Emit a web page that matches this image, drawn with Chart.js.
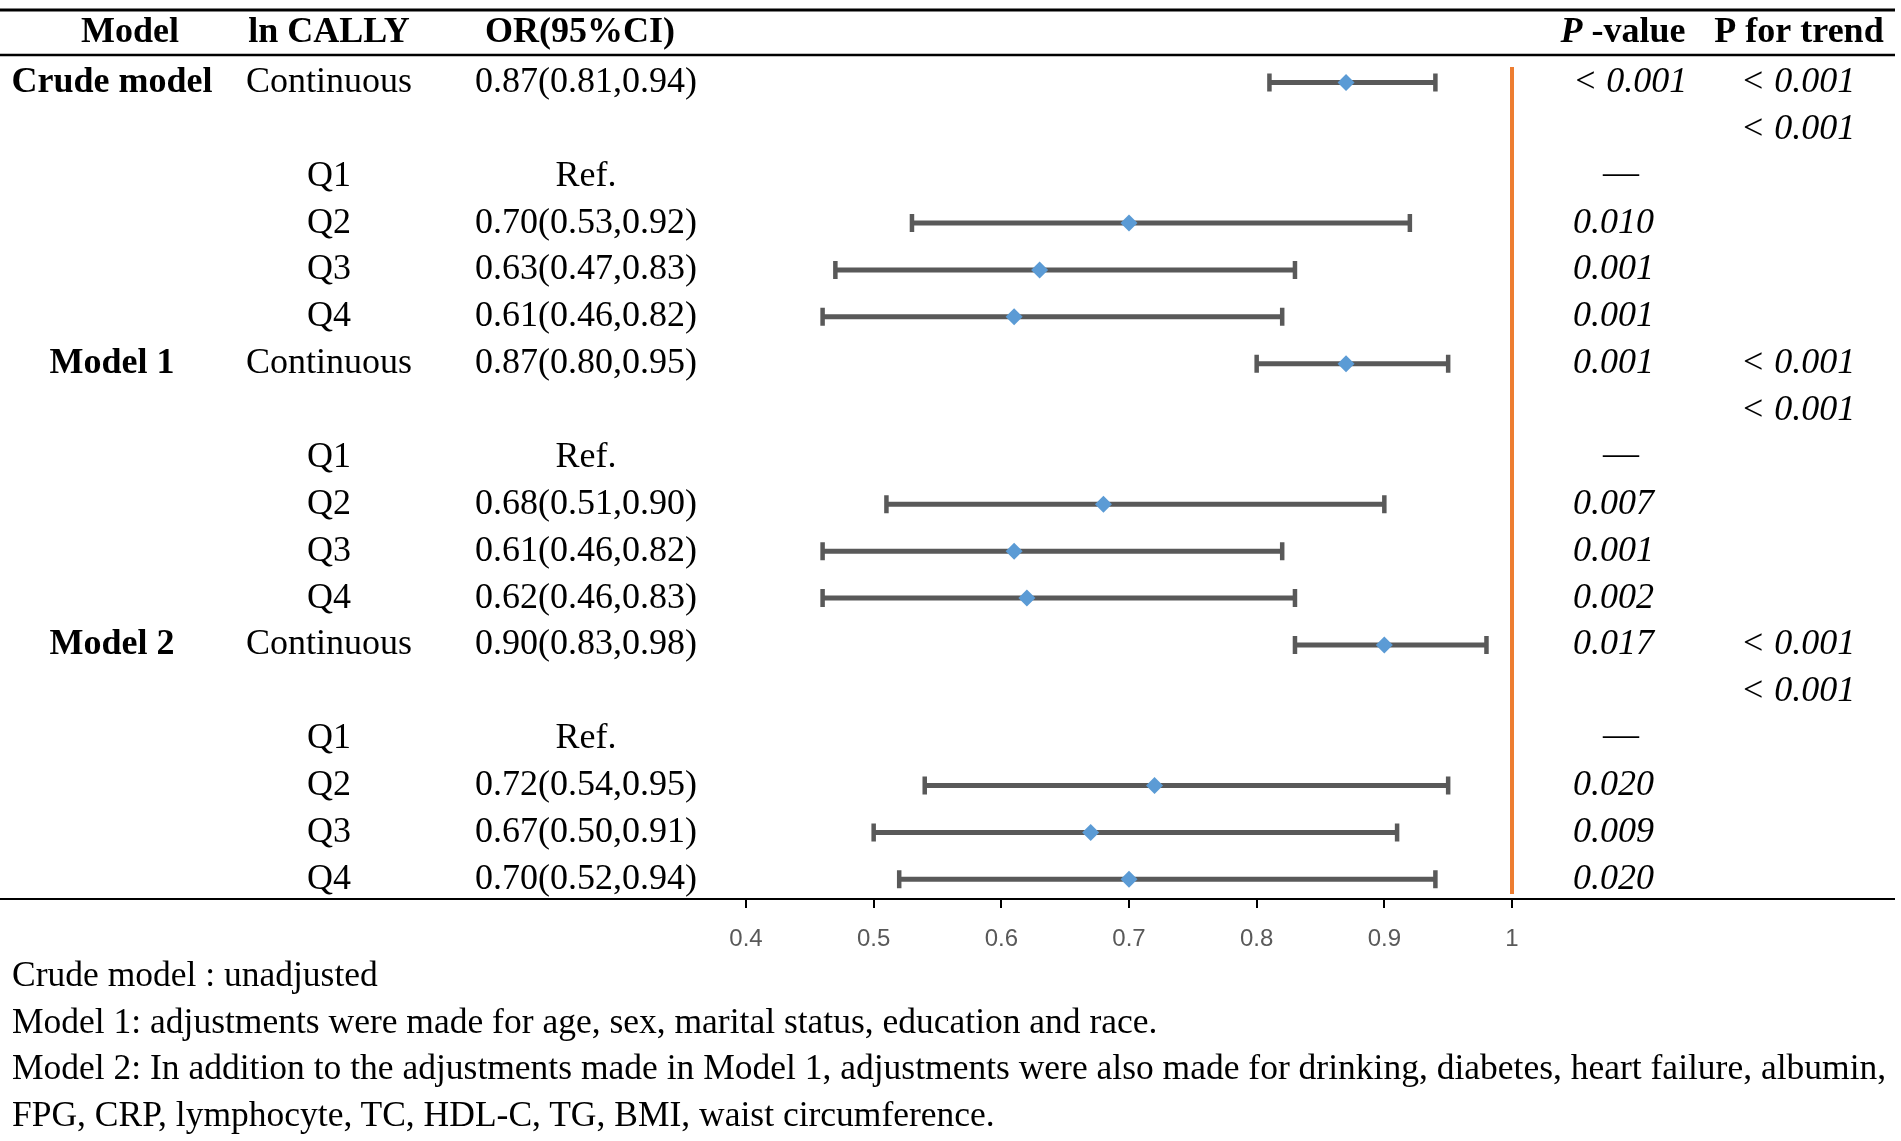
<!DOCTYPE html>
<html><head><meta charset="utf-8">
<script src="https://cdn.jsdelivr.net/npm/chart.js@4.4.1/dist/chart.umd.min.js"></script>
<style>
html,body{margin:0;padding:0;background:#fff;}
#wrap{position:relative;width:1901px;height:1141px;overflow:hidden;background:#fff;}
#c{position:absolute;left:0;top:0;}
.note{position:absolute;left:12px;font-family:'Liberation Serif','Times New Roman',serif;font-size:35.5px;line-height:46px;white-space:nowrap;color:#000;}
</style></head><body>
<div id="wrap">
<canvas id="c" width="1901" height="1141"></canvas>
<div class="note" style="top:951px">Crude model : unadjusted</div>
<div class="note" style="top:998px">Model 1: adjustments were made for age, sex, marital status, education and race.</div>
<div class="note" style="top:1044px">Model 2: In addition to the adjustments made in Model 1, adjustments were also made for drinking, diabetes, heart failure, albumin,</div>
<div class="note" style="top:1091px">FPG, CRP, lymphocyte, TC, HDL-C, TG, BMI, waist circumference.</div>
</div>
<script>
// ---- data ----
const headers = ['Model', 'ln CALLY', 'OR(95%CI)', 'P -value', 'P for trend'];
const modelNames = ['Crude model','','','','','', 'Model 1','','','','','', 'Model 2','','','','',''];
const variables = ['Continuous','','Q1','Q2','Q3','Q4', 'Continuous','','Q1','Q2','Q3','Q4', 'Continuous','','Q1','Q2','Q3','Q4'];
const orValues = [0.87,null,null,0.70,0.63,0.61, 0.87,null,null,0.68,0.61,0.62, 0.90,null,null,0.72,0.67,0.70];
const ciLower  = [0.81,null,null,0.53,0.47,0.46, 0.80,null,null,0.51,0.46,0.46, 0.83,null,null,0.54,0.50,0.52];
const ciUpper  = [0.94,null,null,0.92,0.83,0.82, 0.95,null,null,0.90,0.82,0.83, 0.98,null,null,0.95,0.91,0.94];
const pValues  = ['< 0.001','','—','0.010','0.001','0.001', '0.001','','—','0.007','0.001','0.002', '0.017','','—','0.020','0.009','0.020'];
const pTrend   = ['< 0.001','< 0.001','','','','', '< 0.001','< 0.001','','','','', '< 0.001','< 0.001','','','',''];
const xTicks   = [0.4, 0.5, 0.6, 0.7, 0.8, 0.9, 1.0];
const refValue = 1;

const SERIF = '"Liberation Serif","Times New Roman",serif';
const FS = 36;

function orText(i){
  if (variables[i] === 'Q1') return 'Ref.';
  if (orValues[i] == null) return '';
  return orValues[i].toFixed(2) + '(' + ciLower[i].toFixed(2) + ',' + ciUpper[i].toFixed(2) + ')';
}

const points = [];
orValues.forEach((v, i) => { if (v != null) points.push({x: v, y: i}); });

const forestPlugin = {
  id: 'forest',
  beforeDatasetsDraw(chart){
    const ctx = chart.ctx, xs = chart.scales.x, ys = chart.scales.y;
    ctx.save();
    // reference line
    const rx = xs.getPixelForValue(refValue);
    ctx.strokeStyle = '#ED7D31';
    ctx.lineWidth = 4;
    ctx.beginPath(); ctx.moveTo(rx, 67); ctx.lineTo(rx, 894); ctx.stroke();
    // error bars
    ctx.strokeStyle = '#595959';
    for (let i = 0; i < orValues.length; i++){
      if (orValues[i] == null) continue;
      const y = ys.getPixelForValue(i);
      const x1 = xs.getPixelForValue(ciLower[i]);
      const x2 = xs.getPixelForValue(ciUpper[i]);
      ctx.lineWidth = 5;
      ctx.beginPath(); ctx.moveTo(x1, y); ctx.lineTo(x2, y); ctx.stroke();
      ctx.lineWidth = 4.5;
      ctx.beginPath();
      ctx.moveTo(x1, y - 9); ctx.lineTo(x1, y + 9);
      ctx.moveTo(x2, y - 9); ctx.lineTo(x2, y + 9);
      ctx.stroke();
    }
    ctx.restore();
  },
  afterDraw(chart){
    const ctx = chart.ctx, ys = chart.scales.y;
    ctx.save();
    ctx.strokeStyle = '#000';
    const hline = (y, w) => { ctx.lineWidth = w; ctx.beginPath(); ctx.moveTo(0, y); ctx.lineTo(1895, y); ctx.stroke(); };
    hline(10, 3); hline(55, 2.5); hline(899, 2);

    ctx.fillStyle = '#000';
    ctx.textBaseline = 'middle';
    ctx.textAlign = 'center';
    ctx.font = 'bold ' + FS + 'px ' + SERIF;
    ctx.fillText(headers[0], 130, 33);
    ctx.fillText(headers[1], 329, 33);
    ctx.fillText(headers[2], 580, 33);
    ctx.fillText(headers[4], 1799, 33);
    // "P -value" with italic P
    const pPart = headers[3].slice(0, 1), rest = headers[3].slice(1);
    ctx.font = 'italic bold ' + FS + 'px ' + SERIF;
    const w1 = ctx.measureText(pPart).width;
    ctx.font = 'bold ' + FS + 'px ' + SERIF;
    const w2 = ctx.measureText(rest).width;
    let sx = 1623 - (w1 + w2) / 2;
    ctx.textAlign = 'left';
    ctx.font = 'italic bold ' + FS + 'px ' + SERIF;
    ctx.fillText(pPart, sx, 33);
    ctx.font = 'bold ' + FS + 'px ' + SERIF;
    ctx.fillText(rest, sx + w1, 33);

    for (let i = 0; i < variables.length; i++){
      const y = ys.getPixelForValue(i);
      ctx.textAlign = 'center';
      if (modelNames[i]){
        ctx.font = 'bold ' + FS + 'px ' + SERIF;
        ctx.fillText(modelNames[i], 112, y);
      }
      ctx.font = FS + 'px ' + SERIF;
      if (variables[i]) ctx.fillText(variables[i], 329, y);
      const t = orText(i);
      if (t) ctx.fillText(t, 586, y);
      ctx.font = 'italic ' + FS + 'px ' + SERIF;
      if (pValues[i] === '—'){
        ctx.font = FS + 'px ' + SERIF;
        ctx.fillText(pValues[i], 1621, y - 2);
      } else if (pValues[i]){
        ctx.textAlign = 'left';
        ctx.fillText(pValues[i], 1573, y);
      }
      ctx.textAlign = 'center';
      ctx.font = 'italic ' + FS + 'px ' + SERIF;
      if (pTrend[i]) ctx.fillText(pTrend[i], 1798, y);
    }
    ctx.restore();
  }
};

function build(){
  new Chart(document.getElementById('c'), {
    type: 'scatter',
    data: {
      datasets: [{
        data: points,
        pointStyle: 'rectRot',
        pointRadius: 8.5,
        pointHoverRadius: 8.5,
        backgroundColor: '#5B9BD5',
        borderWidth: 0
      }]
    },
    options: {
      responsive: false,
      animation: false,
      events: [],
      layout: { padding: { left: 746, right: 389, top: 59, bottom: 182 } },
      plugins: { legend: { display: false }, tooltip: { enabled: false } },
      scales: {
        x: {
          type: 'linear', min: 0.4, max: 1.0,
          afterBuildTicks: (s) => { s.ticks = xTicks.map(v => ({value: v})); },
          afterFit: (s) => { s.height = 60; },
          grid: { drawOnChartArea: false, drawTicks: true, tickLength: 9, color: '#000', lineWidth: 2 },
          border: { display: true, color: '#000', width: 2 },
          ticks: {
            color: '#595959',
            padding: 17,
            font: { family: '"Liberation Sans",sans-serif', size: 24 },
            callback: (v) => String(+Number(v).toFixed(1))
          }
        },
        y: {
          type: 'linear', min: -0.5, max: 17.42, reverse: true, display: false
        }
      }
    },
    plugins: [forestPlugin]
  });
}
const fontLoads = [
  '36px "Liberation Serif"', 'bold 36px "Liberation Serif"', 'italic 36px "Liberation Serif"',
  'italic bold 36px "Liberation Serif"', '24px "Liberation Sans"'
].map(f => document.fonts.load(f).catch(() => null));
Promise.all(fontLoads).then(build, build);
</script>
</body></html>
